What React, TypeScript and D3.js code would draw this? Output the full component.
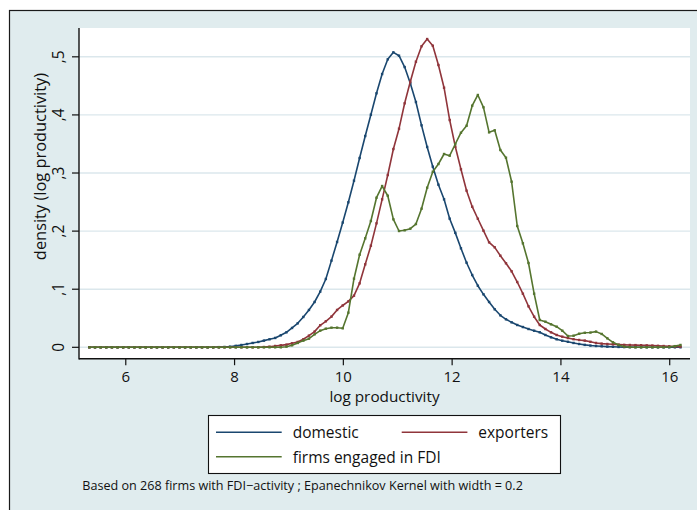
import React from 'react';
import * as d3 from 'd3';

// kernel density evaluation grid (common for all three series)
const gridStart = 5.331;
const gridStep = 0.1035;

const domestic = [
  0, 0, 0, 0, 0, 0, 0, 0, 0, 0,
  0, 0, 0, 0, 0, 0, 0, 0, 0, 0,
  0, 0,
  0.0001, 0.0003, 0.0006, 0.0011, 0.0025, 0.004, 0.0057, 0.0075, 0.0092, 0.0115,
  0.0138, 0.0161, 0.0207, 0.0258, 0.0333, 0.0413, 0.0522, 0.0643, 0.078, 0.0958,
  0.1176, 0.1492, 0.1813, 0.2148, 0.2496, 0.2868, 0.3258, 0.3637, 0.4004, 0.4372,
  0.4704, 0.4957, 0.5077, 0.5019, 0.4824, 0.4544, 0.4222, 0.3821, 0.3448, 0.3109,
  0.2799, 0.2547, 0.2214, 0.197, 0.1704, 0.1456, 0.1244, 0.106, 0.0912, 0.078,
  0.0654, 0.0551, 0.0482, 0.043, 0.0384, 0.0349, 0.0315, 0.0286, 0.0258, 0.0212,
  0.0172, 0.0138, 0.0114, 0.0095, 0.0075, 0.0057, 0.0042, 0.003, 0.0023, 0.0017,
  0.0012, 0.0009, 0.0006, 0.0004, 0.0003, 0.0002, 0.0001, 0.0001, 0, 0,
  0, 0, 0, 0,
];

const exporters = [
  0, 0, 0, 0, 0, 0, 0, 0, 0, 0,
  0, 0, 0, 0, 0, 0, 0, 0, 0, 0,
  0, 0, 0, 0, 0, 0, 0, 0, 0, 0,
  0,
  0.0005, 0.0011, 0.0023, 0.0034, 0.0046, 0.0069, 0.0092, 0.0138, 0.0201, 0.027,
  0.0379, 0.0448, 0.0528, 0.0643, 0.072, 0.079, 0.0889, 0.1101, 0.1428, 0.1749,
  0.2134, 0.2547, 0.2966, 0.3413, 0.3763, 0.42, 0.4572, 0.4916, 0.5181, 0.5306,
  0.5191, 0.4859, 0.4468, 0.3912, 0.3453, 0.3064, 0.2696, 0.242, 0.2213, 0.2007,
  0.1807, 0.1721, 0.1577, 0.1446, 0.1308, 0.1124, 0.0923, 0.0706, 0.0527, 0.0384,
  0.0315, 0.0258, 0.0212, 0.0183, 0.016, 0.014, 0.0126, 0.0115, 0.0095, 0.0075,
  0.0063, 0.0057, 0.0052, 0.0046, 0.0042, 0.004, 0.0038, 0.0036, 0.0033, 0.003,
  0.0026, 0.0022, 0.0018, 0.0014, 0.0012,
];

const fdiFirms = [
  0, 0, 0, 0, 0, 0, 0, 0, 0, 0,
  0, 0, 0, 0, 0, 0, 0, 0, 0, 0,
  0, 0, 0, 0, 0, 0, 0, 0, 0, 0,
  0, 0, 0, 0, 0,
  0.0011, 0.0034, 0.0075, 0.0115, 0.0149, 0.0224, 0.0287, 0.0321, 0.0338, 0.0338,
  0.0327, 0.0596, 0.1181, 0.1594, 0.1876, 0.2174, 0.2575, 0.2776, 0.2609, 0.2203,
  0.2002, 0.2014, 0.2041, 0.2122, 0.2386, 0.2747, 0.3022, 0.3155, 0.3327, 0.3298,
  0.3499, 0.3694, 0.3814, 0.4159, 0.4343, 0.4131, 0.37, 0.3735, 0.3396, 0.3263,
  0.285, 0.2088, 0.179, 0.1451, 0.0923, 0.047, 0.0441, 0.0396, 0.0355, 0.0286,
  0.0194, 0.02, 0.0234, 0.025, 0.0254, 0.027, 0.023, 0.0155, 0.0086, 0.004,
  0.0011, 0.0003, 0, 0, 0, 0, 0, 0, 0.0005, 0.002,
  0.004,
];

const xTicks = [6, 8, 10, 12, 14, 16];
const yTicks = [0, 0.1, 0.2, 0.3, 0.4, 0.5];
const yTickLabels = ['0', ',1', ',2', ',3', ',4', ',5'];
const seriesNames = ['domestic', 'exporters', 'firms engaged in FDI'];
const xTitle = 'log productivity';
const yTitle = 'density (log productivity)';
const note = 'Based on 268 firms with FDI\u2212activity ; Epanechnikov Kernel with width = 0.2';

const W = 697;
const H = 510;
const FONT = "'Open Sans', sans-serif";
const colors = ['#1a476f', '#90353b', '#55752f'];

export default function App() {
  const left = 79, right = 690, top = 28, bottom = 358.7;
  const x = d3.scaleLinear().domain([5.14, 16.373]).range([left, right]);
  const y = d3.scaleLinear().domain([-0.0196, 0.5496]).range([bottom, top]);
  const gx = (i: number) => x(gridStart + i * gridStep);
  const line = d3.line<number>().x((_, i) => gx(i)).y((d) => y(d));
  const series = [domestic, exporters, fdiFirms];

  const legendRows = [
    { name: seriesNames[0], c: colors[0], lx: 216, tx: 292.7, ly: 432.3 },
    { name: seriesNames[1], c: colors[1], lx: 401.7, tx: 478.3, ly: 432.3 },
    { name: seriesNames[2], c: colors[2], lx: 216, tx: 292.7, ly: 456.7 },
  ];

  return (
    <div style={{ position: 'absolute', left: 0, top: 0 }}>
      <svg width={W} height={H} style={{ display: 'block' }} fontFamily={FONT}>
        <rect x={0} y={0} width={W} height={H} fill="#ffffff" />
        <rect x={9.5} y={10.5} width={W + 20} height={H + 20} fill="#e0ecee" stroke="#1a1a1a" strokeWidth={1.2} />
        <rect x={left} y={top} width={right - left} height={bottom - top} fill="#ffffff" />
        {yTicks.map((t) => (
          <line key={'g' + t} x1={left} x2={right} y1={y(t)} y2={y(t)} stroke="#dbe7ec" strokeWidth={1.4} />
        ))}
        {series.map((s, si) => (
          <g key={'s' + si}>
            <path d={line(s) || ''} fill="none" stroke={colors[si]} strokeWidth={1.6} strokeLinejoin="round" />
            {s.map((v, i) => (
              <rect key={i} x={gx(i) - 1.2} y={y(v) - 1.2} width={2.4} height={2.4} fill={colors[si]} />
            ))}
          </g>
        ))}
        {/* axes */}
        <line x1={left} x2={left} y1={top} y2={bottom + 0.7} stroke="#111" strokeWidth={1.4} />
        <line x1={left} x2={right} y1={bottom} y2={bottom} stroke="#111" strokeWidth={1.4} />
        {yTicks.map((t, i) => (
          <g key={'yt' + t}>
            <line x1={left - 7} x2={left} y1={y(t)} y2={y(t)} stroke="#111" strokeWidth={1.2} />
            <text transform={`translate(63.5,${y(t)}) rotate(-90)`} textAnchor="middle" fontSize={15.5} fill="#111">
              {yTickLabels[i]}
            </text>
          </g>
        ))}
        {xTicks.map((t) => (
          <g key={'xt' + t}>
            <line x1={x(t)} x2={x(t)} y1={bottom} y2={bottom + 6.5} stroke="#111" strokeWidth={1.2} />
            <text x={x(t)} y={381.5} textAnchor="middle" fontSize={15} fill="#111">
              {t}
            </text>
          </g>
        ))}
        <text x={(left + right) / 2} y={402.3} textAnchor="middle" fontSize={15.3} fill="#111">
          {xTitle}
        </text>
        <text transform={`translate(46,166.5) rotate(-90)`} textAnchor="middle" fontSize={16.4} fill="#111">
          {yTitle}
        </text>
        {/* legend */}
        <rect x={208.5} y={415.5} width={352} height={58} fill="#ffffff" stroke="#111" strokeWidth={1.1} />
        {legendRows.map((r) => (
          <g key={r.name}>
            <line x1={r.lx} x2={r.lx + 65.7} y1={r.ly} y2={r.ly} stroke={r.c} strokeWidth={1.6} />
            <text x={r.tx} y={r.ly + 6} fontSize={15.5} fill="#111">
              {r.name}
            </text>
          </g>
        ))}
        <text x={82.3} y={490} fontSize={12.6} fill="#111">
          {note}
        </text>
      </svg>
    </div>
  );
}
